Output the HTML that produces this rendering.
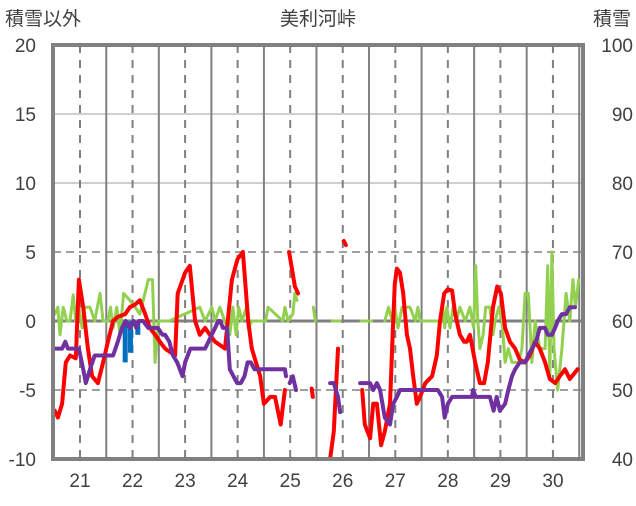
<!DOCTYPE html>
<html><head><meta charset="utf-8"><style>
body{margin:0;background:#fff;}
svg text{font-family:"Liberation Sans","Noto Sans CJK JP",sans-serif;fill:#404040;}
</style></head><body>
<svg id="c" width="636" height="501" xmlns="http://www.w3.org/2000/svg">
<text x="5" y="25" font-size="19">積雪以外</text>
<text x="318" y="25" font-size="19" text-anchor="middle">美利河峠</text>
<text x="631" y="25" font-size="19" text-anchor="end">積雪</text>
<g id="grid"></g><g id="marks"></g><g id="axes"></g>
</svg>
<script>
const leftTicks=[20,15,10,5,0,-5,-10];
const rightTicks=[100,90,80,70,60,50,40];
const dayTicks=[21,22,23,24,25,26,27,28,29,30];
const redT=[20.52,20.58,20.66,20.73,20.81,20.92,20.98,21.06,21.15,21.23,21.34,21.44,21.53,21.63,21.72,21.86,21.95,22.05,22.14,22.24,22.33,22.43,22.52,22.62,22.81,22.86,23.0,23.09,23.19,23.28,23.38,23.47,23.57,23.76,23.89,24.0,24.1,24.2,24.27,24.35,24.43,24.5,24.62,24.71,24.82,24.9,null,24.98,25.09,25.15,null,25.41,25.43,null,25.76,25.83,25.91,null,26.02,26.06,null,26.37,26.42,26.52,26.58,26.65,26.73,26.8,26.9,26.96,26.99,27.03,27.09,27.15,27.22,27.28,27.34,27.41,27.47,27.57,27.7,27.79,27.85,27.93,28.0,28.08,28.14,28.23,28.31,28.36,28.42,28.52,28.61,28.69,28.76,28.86,28.94,29.01,29.09,29.18,29.28,29.37,29.47,29.56,29.66,29.75,29.85,29.94,30.04,30.13,30.23,30.32,30.47];
const redV=[-6.5,-7,-6,-3,-2.5,-2.7,3,1,-2,-4,-4.5,-3,-1.5,0,0.3,0.5,1,1.2,1.5,0.5,-0.5,-1,-1.5,-2,-2.5,2,3.5,4,0,-1,-0.5,-1,-1.5,-2,3,4.5,5,0,-2,-3,-4,-6,-5.5,-5.5,-7.5,-5,null,5,2.5,2,null,-4.9,-5.5,null,-10,-8,-2,null,5.8,5.5,null,-5,-7.5,-8.5,-6,-6,-9,-8,-6,0,2.7,3.8,3.5,2,-1,-2,-4,-6,-5.5,-4.5,-4,-2.5,0,2,2.3,2.2,0.5,-1,-1.5,-1.5,-1,-3,-4.5,-4.5,-3,1,2.5,2,-0.5,-1.5,-2,-2.8,-3,-2.5,-1.5,-2,-3,-4.2,-4.5,-4,-3.5,-4.2,-3.5];
const purT=[20.52,20.66,20.72,20.77,20.9,20.98,21.06,21.11,21.19,21.28,21.47,21.63,21.72,21.8,21.87,21.95,22.02,22.07,22.12,22.2,22.3,22.35,22.48,22.57,22.62,22.7,22.77,22.85,22.95,23.0,23.1,23.15,23.23,23.38,23.57,23.63,23.67,23.72,23.8,23.85,23.99,24.06,24.13,24.19,24.25,24.32,24.39,24.52,24.66,24.9,24.92,null,24.99,25.05,25.11,null,25.42,null,25.76,25.83,25.91,25.95,null,26.33,26.42,26.52,26.58,26.65,26.71,26.8,26.9,26.96,27.03,27.09,27.19,27.28,27.38,27.47,27.57,27.72,27.81,27.89,27.94,28.0,28.08,28.19,28.33,28.46,28.48,28.53,28.8,28.87,28.93,28.99,29.09,29.15,29.22,29.28,29.37,29.47,29.53,29.6,29.68,29.75,29.85,29.9,29.98,30.04,30.09,30.17,30.25,30.32,30.42];
const purV=[-2,-2,-1.5,-2,-2,-2,-3.5,-4.5,-3.5,-2.5,-2.5,-2.5,-1.5,-0.5,0,-0.5,0,-0.5,0,0,-0.5,-0.5,-0.5,-1,-1,-1.5,-2.5,-3,-4,-3,-2,-2,-2,-2,-0.5,0,0,-0.5,-0.5,-3.5,-4.5,-4.5,-4,-3,-3,-3.5,-3.5,-3.5,-3.5,-3.5,-4,null,-4.5,-4,-5,null,-4.5,null,-4.5,-4.5,-5.5,-6.6,null,-4.5,-4.5,-4.5,-5,-4.5,-5,-7,-7.5,-6,-5.5,-5,-5,-5,-5,-5,-5,-5,-5,-5.5,-7,-6,-5.5,-5.5,-5.5,-5.5,-5,-5.5,-5.5,-6.5,-5.5,-6.5,-6,-5,-4,-3.5,-3,-3,-2.5,-2,-1.5,-0.5,-0.5,-1,-1,-0.5,0,0.5,0.5,1,1];
const grnT=[20.52,20.58,20.62,20.68,20.75,20.81,20.87,20.92,20.98,21.04,21.09,21.19,21.28,21.38,21.44,21.53,21.58,21.63,21.7,21.76,21.83,21.95,22.05,22.14,22.3,22.38,22.43,22.49,22.7,23.28,23.38,23.51,23.57,23.66,23.85,23.91,23.97,24.02,24.08,24.17,24.2,24.27,24.53,24.58,24.86,24.9,24.96,25.05,25.09,25.13,null,25.44,25.48,null,25.8,25.95,null,26.35,26.55,null,26.8,26.87,26.94,26.99,27.05,27.13,27.19,27.28,27.38,27.43,27.47,27.85,27.9,27.94,27.98,28.04,28.1,28.16,28.23,28.33,28.42,28.49,28.53,28.57,28.61,28.67,28.72,28.8,28.86,28.9,28.97,29.03,29.09,29.15,29.22,29.28,29.35,29.41,29.47,29.53,29.6,29.66,29.75,29.85,29.9,29.94,29.98,30.02,30.09,30.17,30.25,30.32,30.38,30.43,30.49];
const grnV=[0.5,1,-1,1,0,0,1.9,0,1,-0.5,1,1,0,2,0,0,1,-0.5,1,-1,2,1.5,1,0.5,3,3,-3,0,0,1,0,1,0,1,-1,1,-1,1,0,1,-0.5,0,0,1,0,1,0,0.5,2,1.5,null,1,0,null,0,0,null,0,0,null,0,1,0,1,-0.5,1,1,1,0,1,0,0,1,-0.5,1,-0.5,1,0,1,0,1,-0.5,4,0,-2,-1,1,1,-1,0,1,0,-3,-2,-3,-3,-3,-2,2,2,-3,0,-2,-2,4,-4,5,-2,-5,-2,2,0,3,1,3];
const blueT=[21.86,21.96,22.1];
const blueV=[-3,-2.3,-1];
const ns="http://www.w3.org/2000/svg";
const L=53,R=583,T=45,B=459;
const X=d=>80+(d-21)*52.55;
const Y=v=>T+(20-v)*(B-T)/30;
const YR=s=>Y((s-60)/2);
function mk(tag,attrs,parent){const e=document.createElementNS(ns,tag);for(const k in attrs)e.setAttribute(k,attrs[k]);document.getElementById(parent).appendChild(e);return e;}
leftTicks.forEach(v=>{
  const dashed=(v===5||v===-5);
  const g=mk('line',{x1:L,x2:R,y1:Y(v),y2:Y(v),stroke:v===0?'#808080':'#bfbfbf','stroke-width':v===0?3:1.5,'stroke-dasharray':dashed?'8,5':'none'},'grid');
  if(dashed)g.setAttribute('stroke','#808080');
  
  
  const t=mk('text',{x:36,y:Y(v)+7,'font-size':19,'text-anchor':'end'},'axes');t.textContent=v;
  
  
});
rightTicks.forEach(s=>{
  const t=mk('text',{x:633,y:YR(s)+7,'font-size':19,'text-anchor':'end'},'axes');t.textContent=s;
  
  
});
dayTicks.forEach(d=>{
  const g=mk('line',{x1:X(d),x2:X(d),y1:T,y2:B,stroke:'#808080','stroke-width':2,'stroke-dasharray':'8,7'},'grid');
  
  
  const s=mk('line',{x1:X(d-0.5),x2:X(d-0.5),y1:T,y2:B,stroke:'#808080','stroke-width':2},'grid');
  
  
  const t=mk('text',{x:X(d),y:487,'font-size':19,'text-anchor':'middle'},'axes');t.textContent=d;
  
  
});
const s2=mk('line',{x1:X(30.5),x2:X(30.5),y1:T,y2:B,stroke:'#808080','stroke-width':2},'grid');


blueT.forEach((d,i)=>{
  const r=mk('rect',{x:X(d)-2.5,y:Y(0),width:5,height:Y(blueV[i])-Y(0),fill:'#0070c0'},'marks');
  
  
});
function line(ts,vs,color,name){
  let d='',pen=false;
  ts.forEach((t,i)=>{const v=vs[i];if(t===null||v===null){pen=false;return;}d+=(pen?'L':'M')+X(t).toFixed(1)+','+Y(v).toFixed(1);pen=true;});
  const p=mk('path',{d:d,fill:'none',stroke:color,'stroke-width':color==='#92d050'?3:4,'stroke-linejoin':'round','stroke-linecap':'round'},'marks');
  
  
}
line(grnT,grnV,'#92d050','series-green');
line(redT,redV,'#ff0000','series-red');
line(purT,purV,'#7030a0','series-purple');
const f=mk('rect',{x:L,y:T,width:R-L,height:B-T,fill:'none',stroke:'#808080','stroke-width':4},'axes');


</script>
</body></html>
